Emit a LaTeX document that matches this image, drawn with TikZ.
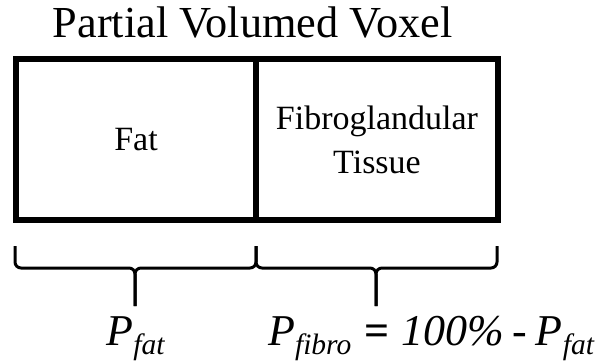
\documentclass[tikz,border=0pt]{standalone}
\usepackage{fontspec}
\setmainfont{LiberationSerif}[Extension=.ttf,UprightFont=*-Regular,BoldFont=*-Bold,ItalicFont=*-Italic,BoldItalicFont=*-BoldItalic]
\begin{document}
\begin{tikzpicture}[x=1pt,y=-1pt,
  cellbox/.style={draw=black,line width=6pt,rectangle,inner sep=0pt,minimum height=161pt,align=center,font=\fontsize{34}{44}\selectfont},
  bracepath/.style={draw=black,line width=3pt,rounded corners=6pt,line cap=butt},
  titletext/.style={inner sep=0pt,font=\fontsize{44.3}{50}\selectfont},
  eqtext/.style={inner sep=0pt,font=\fontsize{44}{50}\selectfont}]
\useasboundingbox (0,0) rectangle (596,360);
\newcommand{\subtxt}[1]{\raisebox{-9.5pt}{\fontsize{29.5}{30}\selectfont #1}}
\node[titletext,anchor=base] (title) at (252.5,37) {Partial Volumed Voxel};
\node[cellbox,minimum width=240pt] (fat) at (136,139.5) {Fat};
\node[cellbox,minimum width=242pt] (fibro) at (377,139.5) {Fibroglandular\\Tissue};
% braces
\coordinate (l1) at (15,246);
\coordinate (l2) at (15,268);
\coordinate (m1) at (256,246);
\coordinate (m2) at (256,268);
\coordinate (r1) at (497,246);
\coordinate (r2) at (497,268);
\coordinate (lt) at (135,268);
\coordinate (ltip) at (135,306);
\coordinate (rt) at (376,268);
\coordinate (rtip) at (376,306);
\draw[bracepath] (l1) -- (l2) -- (lt) -- (ltip);
\draw[bracepath] (m1) -- (m2) -- (lt) -- (ltip);
\draw[bracepath] (m1) -- (m2) -- (rt) -- (rtip);
\draw[bracepath] (r1) -- (r2) -- (rt) -- (rtip);
% labels
\node[eqtext,anchor=base] (pfat) at (135.5,345) {\itshape P\subtxt{fat}};
\node[eqtext,anchor=base west] (pfibro) at (268,345) {\itshape P\subtxt{fibro}\hspace{0.3em}{\upshape\bfseries =}\hspace{0.26em}100\%\hspace{0.2em}{\upshape -}\hspace{0.2em}P\subtxt{fat}};
\end{tikzpicture}
\end{document}
